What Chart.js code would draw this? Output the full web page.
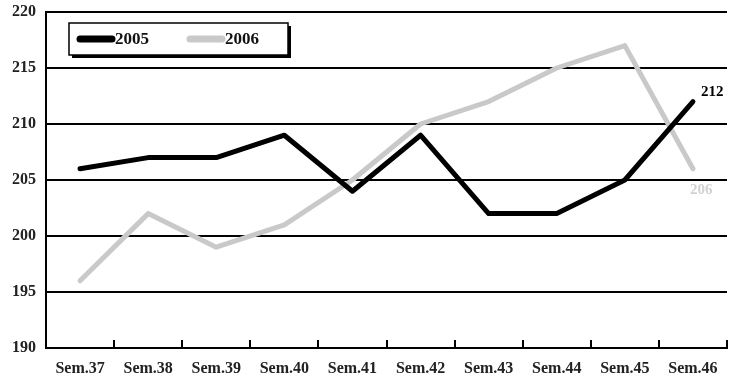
<!DOCTYPE html>
<html>
<head>
<meta charset="utf-8">
<script src="https://cdn.jsdelivr.net/npm/chart.js@4/dist/chart.umd.min.js"></script>
<style>
html,body{margin:0;padding:0;background:#fff;}
#wrap{width:747px;height:388px;position:relative;}
</style>
</head>
<body>
<div id="wrap"><canvas id="c" width="747" height="388"></canvas></div>
<script>
const categories = ["Sem.37","Sem.38","Sem.39","Sem.40","Sem.41","Sem.42","Sem.43","Sem.44","Sem.45","Sem.46"];
const series2005 = [206, 207, 207, 209, 204, 209, 202, 202, 205, 212];
const series2006 = [196, 202, 199, 201, 205, 210, 212, 215, 217, 206];
const seriesLabels = ["2005", "2006"];
const yMin = 190, yMax = 220, yStep = 5;

const FONT = "'Liberation Serif', 'Times New Roman', serif";
const BLACK = "#000000";
const GRAY = "#c9c9c9";

const innerTicks = {
  id: 'innerTicks',
  afterDatasetsDraw(chart) {
    const ctx = chart.ctx, x = chart.scales.x, area = chart.chartArea;
    ctx.save();
    ctx.strokeStyle = BLACK; ctx.lineWidth = 2;
    for (let i = 0; i < categories.length; i++) {
      const px = Math.round((x.getPixelForValue(i) + (i + 1 < categories.length ? x.getPixelForValue(i + 1) : 2 * x.getPixelForValue(i) - x.getPixelForValue(i - 1))) / 2);
      ctx.beginPath(); ctx.moveTo(px, area.bottom); ctx.lineTo(px, area.bottom - 8); ctx.stroke();
    }
    ctx.restore();
  }
};

const endLabels = {
  id: 'endLabels',
  afterDatasetsDraw(chart) {
    const ctx = chart.ctx;
    ctx.save();
    ctx.font = "bold 15px " + FONT;
    ctx.textBaseline = 'middle'; ctx.textAlign = 'left';
    const m0 = chart.getDatasetMeta(0).data, m1 = chart.getDatasetMeta(1).data;
    const p0 = m0[m0.length - 1], p1 = m1[m1.length - 1];
    ctx.fillStyle = BLACK;
    ctx.fillText(String(series2005[series2005.length - 1]), p0.x + 8, p0.y - 9);
    ctx.fillStyle = "#d2d2d2";
    ctx.fillText(String(series2006[series2006.length - 1]), p1.x - 3, p1.y + 21);
    ctx.restore();
  }
};

const boxLegend = {
  id: 'boxLegend',
  afterDraw(chart) {
    const ctx = chart.ctx, a = chart.chartArea;
    const L = a.left + 23, T = a.top + 11, W = 219, H = 32;
    ctx.save();
    ctx.fillStyle = BLACK;
    ctx.fillRect(L + 3, T + 3, W, H);
    ctx.fillStyle = '#fff';
    ctx.fillRect(L, T, W, H);
    ctx.strokeStyle = BLACK; ctx.lineWidth = 1.5;
    ctx.strokeRect(L, T, W, H);
    const cy = T + 16;
    const ds = chart.data.datasets;
    const xs = [L + 11, L + 121];
    ctx.font = "bold 17px " + FONT;
    ctx.textBaseline = 'middle'; ctx.textAlign = 'left';
    ds.forEach((d, i) => {
      ctx.strokeStyle = d.borderColor; ctx.lineWidth = 7; ctx.lineCap = 'round';
      ctx.beginPath(); ctx.moveTo(xs[i], cy); ctx.lineTo(xs[i] + 32, cy); ctx.stroke();
      ctx.fillStyle = '#111';
      ctx.fillText(d.label, xs[i] + 35, cy + 1);
    });
    ctx.restore();
  }
};

new Chart(document.getElementById('c'), {
  type: 'line',
  data: {
    labels: categories,
    datasets: [
      { label: seriesLabels[0], data: series2005, borderColor: BLACK, backgroundColor: BLACK, borderWidth: 5, pointRadius: 0, tension: 0, borderJoinStyle: 'round', borderCapStyle: 'round' },
      { label: seriesLabels[1], data: series2006, borderColor: GRAY, backgroundColor: GRAY, borderWidth: 5, pointRadius: 0, tension: 0, borderJoinStyle: 'round', borderCapStyle: 'round' }
    ]
  },
  options: {
    responsive: false,
    animation: false,
    devicePixelRatio: 1,
    layout: { padding: { top: 12, right: 20, left: 0, bottom: 0 } },
    plugins: { legend: { display: false }, tooltip: { enabled: false } },
    scales: {
      x: {
        offset: true,
        grid: { display: false, drawTicks: false },
        border: { display: true, color: BLACK, width: 2 },
        ticks: { color: '#222', font: { family: FONT, size: 16, weight: 'bold' }, padding: 11, maxRotation: 0, autoSkip: false },
        afterFit(s) { s.height = 40; s.paddingLeft = 0; s.paddingRight = 0; }
      },
      y: {
        min: yMin, max: yMax,
        grid: { color: BLACK, lineWidth: 2, drawTicks: false },
        border: { display: true, color: BLACK, width: 2 },
        ticks: { stepSize: yStep, color: '#222', font: { family: FONT, size: 16, weight: 'bold' }, padding: 10 },
        afterFit(s) { s.width = 46; s.paddingTop = 0; s.paddingBottom = 0; }
      }
    }
  },
  plugins: [innerTicks, endLabels, boxLegend]
});
</script>
</body>
</html>
